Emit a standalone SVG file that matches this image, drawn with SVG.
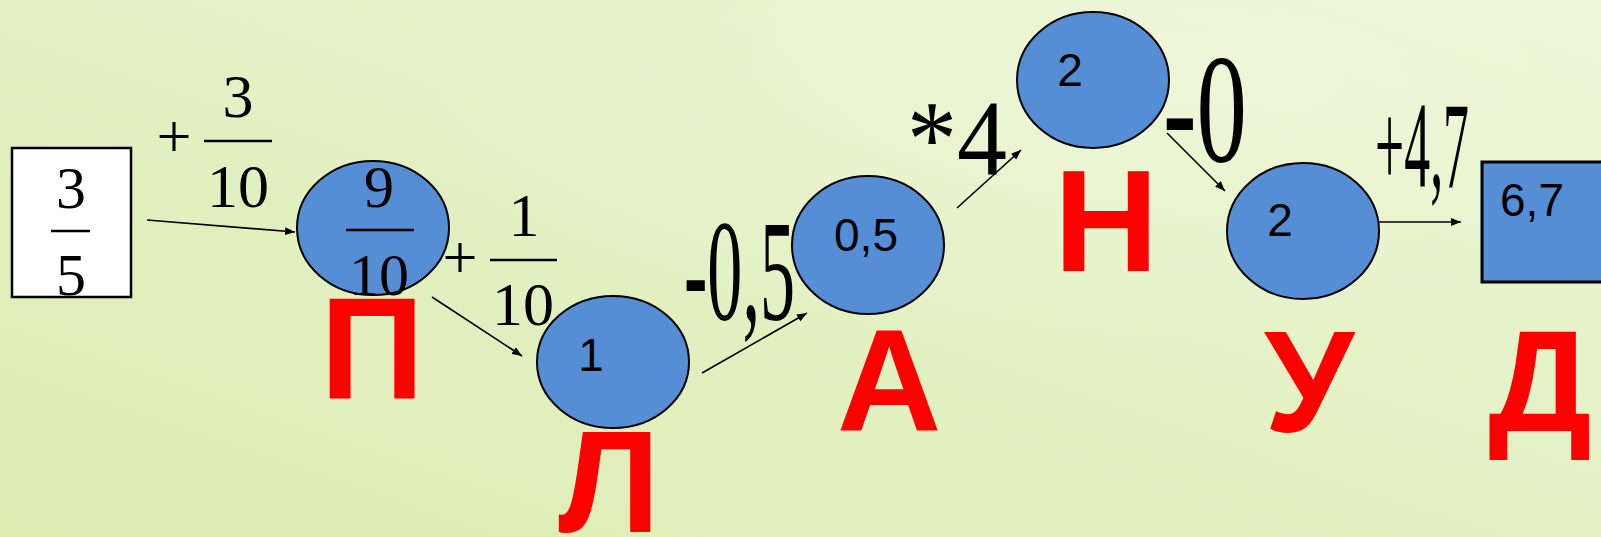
<svg xmlns="http://www.w3.org/2000/svg" width="1601" height="537" viewBox="0 0 1601 537">
<defs>
<linearGradient id="bg" x1="0" y1="1" x2="1" y2="0">
<stop offset="0" stop-color="#dcecb3"/>
<stop offset="0.5" stop-color="#e3f1c3"/>
<stop offset="1" stop-color="#ecf6d5"/>
</linearGradient>
<radialGradient id="glow" cx="0.75" cy="0.15" r="0.5">
<stop offset="0" stop-color="#eef7da" stop-opacity="0.8"/>
<stop offset="1" stop-color="#eef7da" stop-opacity="0"/>
</radialGradient>
<marker id="ah" viewBox="0 0 10 8" refX="10" refY="4" markerWidth="10" markerHeight="8" markerUnits="userSpaceOnUse" orient="auto">
<path d="M0,0 L10,4 L0,8 Z" fill="#000"/>
</marker>
<style>
.node{fill:#558ed5;stroke:#000;stroke-width:2}
.lbl{font-family:"Liberation Sans",Arial,sans-serif;font-size:46px;fill:#000;text-anchor:middle}
.frac{font-family:"Liberation Serif","Times New Roman",serif;font-size:62px;fill:#000;text-anchor:middle}
.fracs{font-family:"Liberation Serif","Times New Roman",serif;font-size:60px;fill:#000;text-anchor:middle}
.bar{stroke:#000;stroke-width:2.7}
.op{font-family:"Liberation Serif","Times New Roman",serif;fill:#000}
.red{font-family:"Liberation Sans",Arial,sans-serif;font-weight:bold;font-size:145px;fill:#ff0000;text-anchor:middle}
.conn{stroke:#000;stroke-width:1.6;fill:none;marker-end:url(#ah)}
</style>
</defs>
<rect width="1601" height="537" fill="url(#bg)"/>
<rect width="1601" height="537" fill="url(#glow)"/>

<g id="connectors">
<line class="conn" x1="147" y1="220" x2="295" y2="232"/>
<line class="conn" x1="432" y1="297" x2="522" y2="356"/>
<line class="conn" x1="702" y1="373" x2="807" y2="313"/>
<line class="conn" x1="957" y1="208" x2="1021" y2="150"/>
<line class="conn" x1="1167" y1="133" x2="1225" y2="191"/>
<line class="conn" x1="1378" y1="222" x2="1461" y2="222"/>
</g>

<g id="start">
<rect x="12" y="148" width="119" height="149" fill="#fff" stroke="#000" stroke-width="2.5"/>
<text class="fracs" x="71" y="208">3</text>
<line class="bar" x1="51" y1="231" x2="90" y2="231"/>
<text class="fracs" x="71" y="295">5</text>
</g>

<g id="op1">
<text class="op" x="174" y="157" font-size="62" text-anchor="middle">+</text>
<text class="frac" x="238" y="117">3</text>
<line class="bar" x1="204" y1="141" x2="272" y2="141"/>
<text class="frac" x="238" y="207">10</text>
</g>

<g id="node-p">
<ellipse class="node" cx="373" cy="228" rx="76" ry="67"/>
<text class="fracs" x="379" y="207">9</text>
<line class="bar" x1="346" y1="230" x2="414" y2="230"/>
<text class="fracs" x="379" y="295">10</text>
<text class="red" x="372" y="398">П</text>
</g>

<g id="op2">
<text class="op" x="460" y="278" font-size="62" text-anchor="middle">+</text>
<text class="frac" x="524" y="236">1</text>
<line class="bar" x1="490" y1="260" x2="557" y2="260"/>
<text class="frac" x="523" y="325">10</text>
</g>

<g id="node-l">
<ellipse class="node" cx="613" cy="362" rx="76" ry="66"/>
<text class="lbl" x="591" y="371">1</text>
<text class="red" x="609" y="532">Л</text>
</g>

<g id="op3">
<text class="op" x="684" y="320" font-size="143" textLength="111" lengthAdjust="spacingAndGlyphs">-0,5</text>
</g>

<g id="node-a">
<ellipse class="node" cx="868" cy="245" rx="76" ry="69"/>
<text class="lbl" x="866" y="251">0,5</text>
<text class="red" x="889" y="430">А</text>
</g>

<g id="op4">
<text class="op" x="907" y="175" font-size="107" textLength="100" lengthAdjust="spacingAndGlyphs">*4</text>
</g>

<g id="node-n">
<ellipse class="node" cx="1093" cy="80" rx="76" ry="68"/>
<text class="lbl" x="1070" y="86">2</text>
<text class="red" x="1106" y="271">Н</text>
</g>

<g id="op5">
<text class="op" x="1163" y="161" font-size="155" textLength="84" lengthAdjust="spacingAndGlyphs">-0</text>
</g>

<g id="node-u">
<ellipse class="node" cx="1303" cy="231" rx="76" ry="68"/>
<text class="lbl" x="1280" y="236">2</text>
<text class="red" x="1309" y="432">У</text>
</g>

<g id="op6">
<text class="op" x="1375" y="187" font-size="123" textLength="94" lengthAdjust="spacingAndGlyphs">+4,7</text>
</g>

<g id="end">
<rect x="1482" y="162" width="124" height="120" fill="#558ed5" stroke="#000" stroke-width="3"/>
<text class="lbl" x="1532" y="216">6,7</text>
<text class="red" x="1540" y="431">Д</text>
</g>
</svg>
